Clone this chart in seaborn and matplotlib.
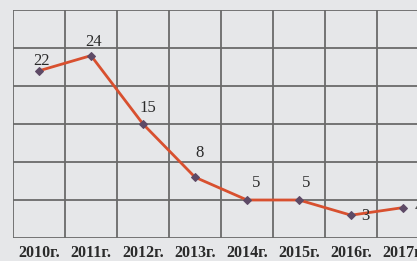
import matplotlib
matplotlib.use("Agg")
import matplotlib.pyplot as plt
import seaborn as sns
import pandas as pd
import numpy as np

years = ["2010г.", "2011г.", "2012г.", "2013г.", "2014г.", "2015г.", "2016г.", "2017г."]
values = [22, 24, 15, 8, 5, 5, 3, 4]
label_offsets = [(3, 10), (3, 14), (5, 16), (5, 24), (9, 17), (7, 17), (14, -1), (16, 0)]

sns.set_theme(style="white")
plt.rcParams['font.family'] = ['Liberation Serif', 'DejaVu Serif']

bg = "#e6e7e9"
fig = plt.figure(figsize=(4.17, 2.61), dpi=100, facecolor=bg)
ax = fig.add_axes([13/417, (261-238)/261, 416/417, 228/261])
ax.set_facecolor(bg)

df = pd.DataFrame({"year": years, "value": values})
df["pos"] = np.arange(len(years))
sns.lineplot(data=df, x="pos", y="value", ax=ax, color="#d8502f", linewidth=2.0,
             marker="D", markersize=4.5, markerfacecolor="#5e4a66", markeredgecolor="#5e4a66",
             legend=False)

for i, (v, off) in enumerate(zip(values, label_offsets)):
    ax.annotate(str(v), (i, v), xytext=off, textcoords="offset pixels",
                ha="center", va="center", fontsize=12, color="#2a2a2a")

ax.set_xlim(-0.5, len(years) - 0.5)
ax.set_ylim(0, 30)
ax.set_xticks(np.arange(len(years)))
ax.set_xticklabels(years, fontsize=11.5, fontweight="bold", color="#2a2a2a")
ax.set_xticks(np.arange(len(years) + 1) - 0.5, minor=True)
ax.set_yticks(np.arange(0, 31, 5))
ax.set_yticklabels([])
ax.tick_params(axis="both", which="both", length=0, pad=5)
ax.grid(False)
ax.grid(True, axis="x", which="minor", color="#6a6a6a", linewidth=1.3)
ax.grid(True, axis="y", which="major", color="#6a6a6a", linewidth=1.3)
for s in ax.spines.values():
    s.set_visible(False)
ax.set_xlabel("")
ax.set_ylabel("")

fig.savefig("out.png", dpi=100, facecolor=bg)
